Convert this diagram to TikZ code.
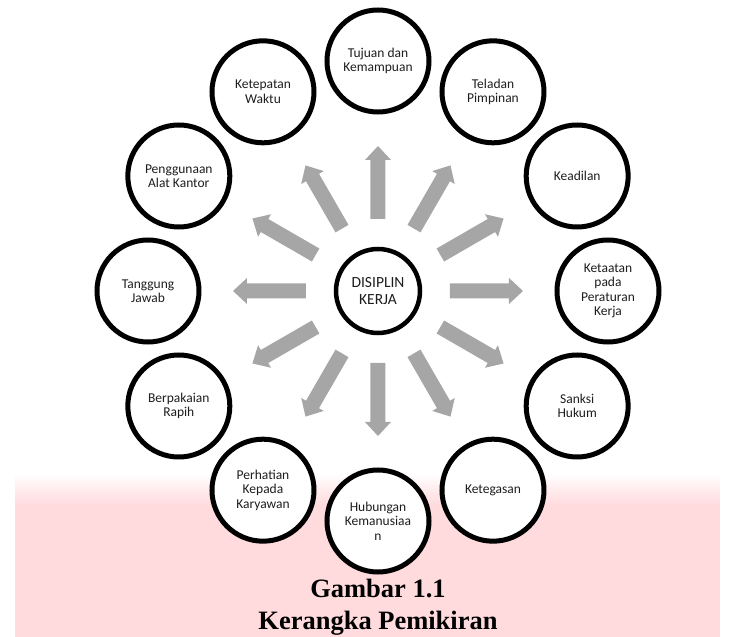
\documentclass[tikz,border=0pt]{standalone}
\usepackage{fontspec}
\setmainfont{Carlito}
\newfontfamily\capfont{Liberation Serif}
\usepackage{tikz}
\definecolor{spokegray}{RGB}{166,166,166}
\definecolor{bandpink}{RGB}{255,219,222}
\definecolor{textgray}{RGB}{30,30,30}

\begin{document}
\begin{tikzpicture}[x=1pt,y=1pt]
      \tikzstyle{main node} = [circle, draw=black, line width=5pt, fill=white, minimum size=102pt, inner sep=0pt,
         align=center, text=textgray, font=\fontsize{13.5}{14.5}\selectfont]
      \tikzstyle{hub node} = [main node, minimum size=84pt, line width=4.5pt, font=\fontsize{15.5}{17.5}\selectfont]
      \tikzstyle{spoke} = [fill=spokegray]
      \useasboundingbox (-378,-346) rectangle (354,291);
      %background band
      \shade[top color=white, bottom color=bandpink] (-363,-182) rectangle (342,-214);
      \fill[bandpink] (-363,-213) rectangle (342,-346);
      %nodes
      \node[hub node]  (disiplin)   at (0,0)      {DISIPLIN\\KERJA};
      \node[main node] (tujuan)     at (90:230)   {Tujuan dan\\Kemampuan};
      \node[main node] (teladan)    at (60:230)   {Teladan\\Pimpinan};
      \node[main node] (keadilan)   at (30:230)   {Keadilan};
      \node[main node] (ketaatan)   at (0:230)    {Ketaatan\\pada\\Peraturan\\Kerja};
      \node[main node] (sanksi)     at (-30:230)  {Sanksi\\Hukum};
      \node[main node] (ketegasan)  at (-60:230)  {Ketegasan};
      \node[main node] (hubungan)   at (-90:230)  {Hubungan\\Kemanusiaa\\n};
      \node[main node] (perhatian)  at (-120:230) {Perhatian\\Kepada\\Karyawan};
      \node[main node] (berpakaian) at (-150:230) {Berpakaian\\Rapih};
      \node[main node] (tanggung)   at (180:230)  {Tanggung\\Jawab};
      \node[main node] (penggunaan) at (150:230)  {Penggunaan\\Alat Kantor};
      \node[main node] (ketepatan)  at (120:230)  {Ketepatan\\Waktu};
      %spokes
      \foreach \a in {0,30,...,330}
         \fill[spoke, rotate=\a] (72,-7.5) -- (131,-7.5) -- (131,-13) -- (145,0) -- (131,13) -- (131,7.5) -- (72,7.5) -- cycle;
      %caption
      \node[font=\capfont\bfseries\fontsize{26.5}{32}\selectfont, align=center] (caption) at (0,-316)
         {Gambar 1.1\\Kerangka Pemikiran};
    \end{tikzpicture}
\end{document}
